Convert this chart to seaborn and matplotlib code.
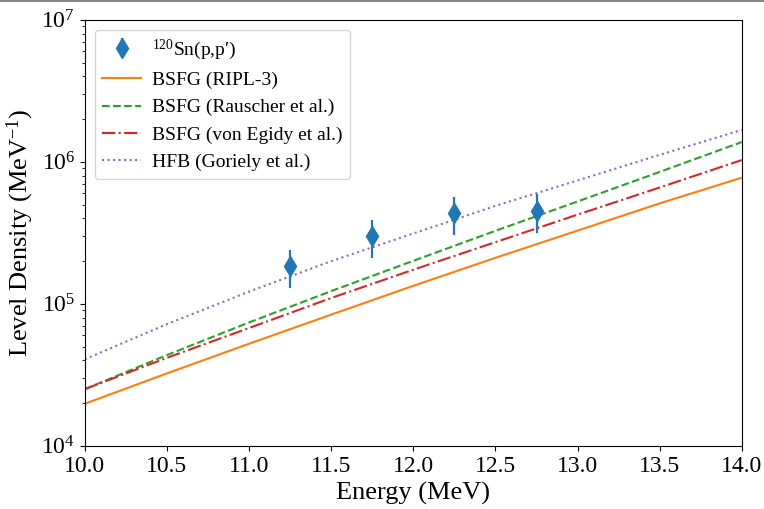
import matplotlib
matplotlib.use("Agg")
import matplotlib.pyplot as plt
from matplotlib.lines import Line2D
import numpy as np
import pandas as pd
import seaborn as sns

# Excitation energy grid for the model curves (MeV)
energy = [10.0, 10.5, 11.0, 11.5, 12.0, 12.5, 13.0, 13.5, 14.0]

# Level-density models (MeV^-1)
ripl3 = [1.98e4, 3.24e4, 5.24e4, 8.4e4, 1.34e5, 2.11e5, 3.28e5, 5.1e5, 7.74e5]
rauscher = [2.51e4, 4.36e4, 7.4e4, 1.23e5, 2.01e5, 3.27e5, 5.26e5, 8.5e5, 1.38e6]
von_egidy = [2.51e4, 4.17e4, 6.76e4, 1.10e5, 1.74e5, 2.72e5, 4.25e5, 6.6e5, 1.03e6]
goriely = [4.07e4, 7.2e4, 1.22e5, 2.0e5, 3.13e5, 4.9e5, 7.4e5, 1.12e6, 1.68e6]

# Measured level density of 120Sn from (p,p')
exp_energy = [11.25, 11.75, 12.25, 12.75]
exp_density = [1.85e5, 3.01e5, 4.35e5, 4.54e5]
exp_error = [5.5e4, 9.0e4, 1.3e5, 1.36e5]

model_labels = ["BSFG (RIPL-3)", "BSFG (Rauscher et al.)",
                "BSFG (von Egidy et al.)", "HFB (Goriely et al.)"]
model_values = [ripl3, rauscher, von_egidy, goriely]
model_colors = ["#ff7f0e", "#2ca02c", "#d62728", "#9467bd"]
model_styles = ["-", "--", "-.", ":"]

plt.rcParams["font.family"] = ["Liberation Serif", "DejaVu Serif"]
plt.rcParams["mathtext.fontset"] = "custom"
plt.rcParams["mathtext.rm"] = "Liberation Serif"
plt.rcParams["mathtext.it"] = "Liberation Serif:italic"
plt.rcParams["mathtext.bf"] = "Liberation Serif:bold"

fig, ax = plt.subplots(figsize=(7.64, 5.09), dpi=100)
fig.subplots_adjust(left=0.111, right=0.971, top=0.961, bottom=0.124)

ax.errorbar(exp_energy, exp_density, yerr=exp_error, fmt="d",
            color="#1f77b4", markersize=10, elinewidth=1.6,
            label=r"$^{120}$Sn(p,p′)", zorder=3)

for lab, vals, col, ls in zip(model_labels, model_values, model_colors, model_styles):
    df = pd.DataFrame({"E": energy, "rho": vals})
    sns.lineplot(data=df, x="E", y="rho", color=col, linestyle=ls,
                 linewidth=1.5, label=lab, ax=ax)

ax.set_yscale("log")
ax.set_xlim(10, 14)
ax.set_ylim(1e4, 1e7)
ax.set_xticks(np.arange(10, 14.01, 0.5))
ax.set_xticklabels([f"{v:.1f}" for v in np.arange(10, 14.01, 0.5)])
ax.tick_params(axis="both", which="major", labelsize=17)
ax.set_xlabel("Energy (MeV)", fontsize=19)
ax.set_ylabel(r"Level Density (MeV$^{-1}$)", fontsize=19)

handles, labels = ax.get_legend_handles_labels()
order = [labels.index(r"$^{120}$Sn(p,p′)")] + [labels.index(l) for l in model_labels]
ax.legend([handles[i] for i in order], [labels[i] for i in order],
          loc="upper left", fontsize=14, frameon=True, handletextpad=0.55)

fig.add_artist(Line2D([0, 1], [0.999, 0.999], transform=fig.transFigure,
                      color="#888888", linewidth=1.5))

fig.savefig("out.png", dpi=100)
